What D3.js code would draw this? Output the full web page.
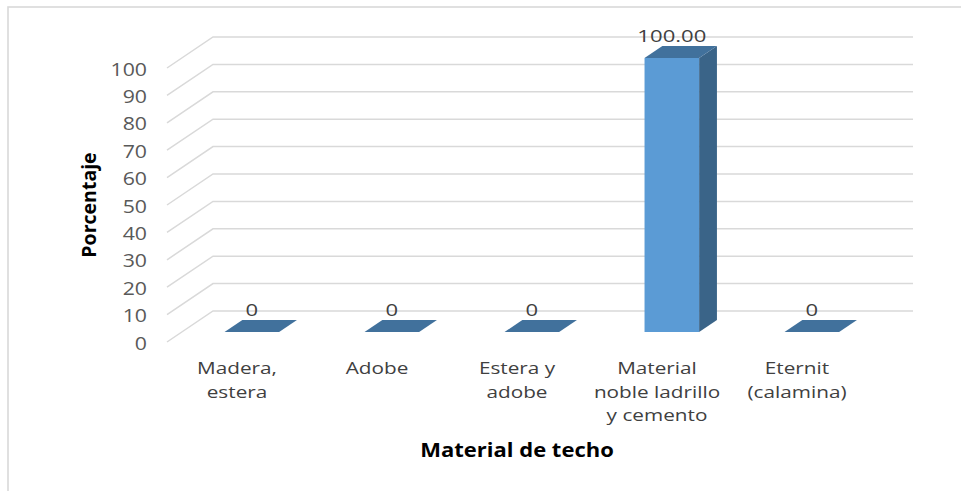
<!DOCTYPE html>
<html>
<head>
<meta charset="utf-8">
<script src="https://cdn.jsdelivr.net/npm/d3@7/dist/d3.min.js"></script>
<style>
  html, body { margin: 0; padding: 0; background: #fff; }
  svg { display: block; font-family: "Open Sans", sans-serif; }
</style>
</head>
<body>
<svg id="chart" width="961" height="491"></svg>
<script>
// Roof material distribution (percent)
const categories = [
  "Madera, estera",
  "Adobe",
  "Estera y adobe",
  "Material noble ladrillo y cemento",
  "Eternit (calamina)"
];
const categoryLines = [
  ["Madera,", "estera"],
  ["Adobe"],
  ["Estera y", "adobe"],
  ["Material", "noble ladrillo", "y cemento"],
  ["Eternit", "(calamina)"]
];
const values = [0, 0, 0, 100, 0];
const valueLabels = ["0", "0", "0", "100.00", "0"];
const yTicks = [0, 10, 20, 30, 40, 50, 60, 70, 80, 90, 100];
const yTitle = "Porcentaje";
const xTitle = "Material de techo";

const svg = d3.select("#chart");

// Oblique 3-D projection: front plane plus a depth vector
const front = { left: 167, right: 867, bottom: 342, top: 68 };
const depth = { dx: 46, dy: -31 };
const barDepth = [10 / 31, 22 / 31];   // bar occupies this slice of the depth
const barWidthRatio = 0.39;

const x = d3.scaleBand().domain(categories).range([front.left, front.right]);
const y = d3.scaleLinear().domain([0, 100]).range([front.bottom, front.top]);

const gridColor = "#d9d9d9";

// outer frame
svg.append("rect")
  .attr("x", 8).attr("y", 7).attr("width", 1200).attr("height", 1200)
  .attr("fill", "none").attr("stroke", gridColor).attr("stroke-width", 1.6);

// gridlines: side wall diagonal + back wall horizontal
const grid = svg.append("g").attr("fill", "none")
  .attr("stroke", gridColor).attr("stroke-width", 1.5);
yTicks.forEach(t => {
  const y0 = y(t);
  grid.append("path").attr("d", d3.line()([
    [front.left, y0],
    [front.left + depth.dx, y0 + depth.dy],
    [front.right + depth.dx, y0 + depth.dy]
  ]));
});

// stretched text helper
function stretchedText(g, tx, ty, sx, txt) {
  return g.append("text")
    .attr("transform", `translate(${tx},${ty}) scale(${sx},1)`)
    .text(txt);
}

// y tick labels
const yAxisG = svg.append("g")
  .attr("fill", "#595959").attr("font-size", 19)
  .attr("text-anchor", "end").attr("dominant-baseline", "central");
yTicks.forEach(t => stretchedText(yAxisG, 147, y(t), 1.12, t));

// bars
const barG = svg.append("g");
categories.forEach((c, i) => {
  const w = x.bandwidth() * barWidthRatio;
  const cx = x(c) + x.bandwidth() / 2;
  const off0 = [depth.dx * barDepth[0], depth.dy * barDepth[0]];
  const off1 = [depth.dx * barDepth[1], depth.dy * barDepth[1]];
  const xl = cx - w / 2 + off0[0], xr = cx + w / 2 + off0[0];
  const yb = y(0) + off0[1], yt = y(values[i]) + off0[1];
  const ddx = off1[0] - off0[0], ddy = off1[1] - off0[1];

  if (values[i] > 0) {
    // front face
    barG.append("path").attr("fill", "#5b9bd5")
      .attr("d", d3.line()([[xl, yb], [xr, yb], [xr, yt], [xl, yt]]) + "Z");
    // right side face
    barG.append("path").attr("fill", "#3a6488")
      .attr("d", d3.line()([[xr, yb], [xr + ddx, yb + ddy], [xr + ddx, yt + ddy], [xr, yt]]) + "Z");
  }
  // top face
  barG.append("path").attr("fill", "#41719c")
    .attr("d", d3.line()([[xl, yt], [xr, yt], [xr + ddx, yt + ddy], [xl + ddx, yt + ddy]]) + "Z");

  // value label above the bar
  const lg = svg.append("g").attr("fill", "#404040").attr("font-size", 17)
    .attr("text-anchor", "middle").attr("dominant-baseline", "central");
  stretchedText(lg, (xl + xr) / 2, yt + ddy - 10, 1.3, valueLabels[i]);
});

// category labels
const catG = svg.append("g").attr("fill", "#404040").attr("font-size", 17)
  .attr("text-anchor", "middle");
categories.forEach((c, i) => {
  const cx = x(c) + x.bandwidth() / 2;
  categoryLines[i].forEach((ln, j) => stretchedText(catG, cx, 374 + j * 23.5, 1.22, ln));
});

// axis titles
svg.append("text")
  .attr("transform", `translate(${(front.left + front.right) / 2},457) scale(1.1,1)`)
  .attr("text-anchor", "middle").attr("font-size", 20).attr("font-weight", "bold")
  .attr("fill", "#000").text(xTitle);

svg.append("text")
  .attr("transform", `translate(96,205) rotate(-90)`)
  .attr("text-anchor", "middle").attr("font-size", 19.5).attr("font-weight", "bold")
  .attr("fill", "#000").text(yTitle);
</script>
</body>
</html>
